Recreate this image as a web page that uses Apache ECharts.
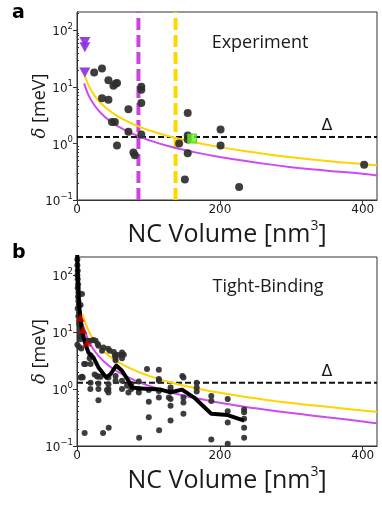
<!DOCTYPE html>
<html>
<head>
<meta charset="utf-8">
<script src="https://cdn.jsdelivr.net/npm/echarts@6/dist/echarts.min.js"></script>
<style>
html,body{margin:0;padding:0;background:#fff;}
#c{width:382px;height:521px;}
</style>
</head>
<body>
<div id="c"></div>
<script>
// ---------- data ----------
const xTicks = [0, 200, 400];
const yTicks = [0.1, 1, 10, 100];
const yMinorTicks = [0.2,0.3,0.4,0.5,0.6,0.7,0.8,0.9,2,3,4,5,6,7,8,9,20,30,40,50,60,70,80,90,200];
const xRange = [0, 420];
const yRange = [0.1, 210];

// panel a: experiment
const expDots = [[24,18],[35,21],[44,13],[51,10.4],[54,11.3],[56,11.7],[35,6.3],[44,5.9],[49,2.4],[53,2.4],
  [72,4],[72,1.6],[56,0.92],[79,0.69],[81,0.62],[90,10],[90,8.9],[90,5.2],[90,1.44],[143,1.0],[151,0.23],
  [155,3.45],[155,1.38],[155,1.17],[155,0.67],[201,1.76],[201,0.92],[227,0.17],[402,0.42]];
const expTriangles = [[11,62],[11,50],[11,18]];
const expSquare = [[161,1.22]];
const vLinePurple = 86;
const vLineYellow = 138;
const deltaLevel = 1.3;

// fitted curves
const yellowCurveA = [[11,15.6],[15,11.5],[20,8.6],[30,5.7],[40,4.3],[50,3.44],[60,2.87],[80,2.15],[100,1.72],
  [130,1.32],[160,1.08],[200,0.86],[250,0.69],[300,0.57],[350,0.49],[400,0.43],[420,0.41]];
const purpleCurveA = [[10,11.5],[15,7.7],[20,5.75],[30,3.83],[40,2.88],[50,2.3],[60,1.92],[80,1.44],[100,1.15],
  [130,0.88],[160,0.72],[200,0.575],[250,0.46],[300,0.38],[350,0.33],[400,0.29],[420,0.27]];
const yellowCurveB = [[8,21],[11,15.6],[15,11.5],[20,8.6],[30,5.7],[40,4.3],[50,3.44],[60,2.87],[80,2.15],[100,1.72],
  [130,1.32],[160,1.08],[200,0.86],[250,0.69],[300,0.57],[350,0.49],[400,0.42],[420,0.40]];
const purpleCurveB = [[8,14.4],[10,11.5],[15,7.7],[20,5.75],[30,3.83],[40,2.88],[50,2.3],[60,1.92],[80,1.44],[100,1.15],
  [130,0.88],[160,0.72],[200,0.575],[250,0.46],[300,0.38],[350,0.32],[400,0.27],[420,0.25]];

// panel b: tight-binding
const tbDots = [[0.5,190],[0.5,150],[1,120],[0.5,100],[1,85],[1.5,70],[1,60],[2,50],[1.5,42],[2,35],[2.5,30],
  [1,26],[3,22],[2,19],[3.5,16],[3,14],[4,12],[5,10],[4,8.5],[5,7.5],[0.5,6],[3,5.5],[6,5.2],[7,47],[5,30],
  [15,7.1],[19,7.1],[26,7.1],[23,7.3],[29,6.2],[30,5.8],[37,5.4],[35,4.7],[43.5,5.1],[46,4.7],[51.5,4.5],
  [53,3.9],[56,4.0],[62,4.0],[65.5,4.0],[54,3.2],[63,3.5],[54,3.6],[63,4.4],
  [10,2.75],[11.7,2.76],[17.7,3.5],[19,3.9],[19,2.76],[7,1.65],[5,1.6],[8,1.6],[24.7,1.8],[29,1.65],[33,1.65],
  [28,1.7],[44,1.6],[54,1.7],[54,1.4],[63,1.4],[19,1.3],[30,1.26],[18.7,1.0],[30,1.0],[44,1.22],[44,1.0],
  [44,0.87],[42,0.96],[63,1.0],[70,1.15],[72,0.87],[76,1.23],[76,1.0],[86.5,1.36],[86.5,1.0],[86.5,0.87],
  [30,0.64],[98,2.25],[100.5,0.96],[100.5,0.6],[100.5,0.32],[114.6,2.2],[114.6,1.5],[114.6,1.4],[114.6,0.93],
  [114.6,0.71],[128.6,0.71],[131,1.07],[131,0.91],[131,0.67],[131,0.51],[131,0.28],[147.5,1.7],[149,1.6],
  [149,0.71],[149,0.58],[149,0.37],[167.6,1.3],[167.6,1.07],[167.6,0.91],[188,0.76],[188,0.62],[188,0.13],
  [211,0.67],[211,0.41],[211,0.26],[211,0.11],[234,0.44],[234,0.39],[234,0.30],[234,0.21],[234,0.14],
  [10.7,0.17],[36.5,0.17],[44.4,0.21],[87,0.14],[115,0.19]];
const tbTriangles = [[4.6,18],[8.4,11],[14,6.6]];
const tbAverage = [[0.3,230],[1.4,71],[2.8,32],[4.6,18],[7,10.7],[11.7,6.2],[16,4.4],[23,3.6],[30,2.4],[41,1.6],
  [47,1.84],[55,2.6],[63,2.1],[72,1.4],[77,1.07],[89,1.02],[103,1.0],[117,0.98],[131,0.88],[147,0.98],
  [164,0.71],[188,0.37],[211,0.35],[234,0.28]];

// ---------- chart ----------
const TXT = '#1a1a1a';
const FONT = 'DejaVu Sans';
const FONT2 = 'Open Sans';
const chart = echarts.init(document.getElementById('c'), null, {renderer:'canvas'});

function xAxisFor(g){
  return {
    type:'value', gridIndex:g, min:xRange[0], max:xRange[1],
    name:'{t|NC Volume [nm}{s|3}{t|]}', nameLocation:'middle', nameGap:17, nameMoveOverlap:false,
    nameTextStyle:{rich:{
      t:{fontFamily:FONT2, fontSize:25, color:TXT, verticalAlign:'bottom'},
      s:{fontFamily:FONT2, fontSize:14, color:TXT, lineHeight:30, padding:[0,0,12,0]}
    }},
    axisLine:{show:true, onZero:false, lineStyle:{color:'#333', width:1}},
    axisTick:{show:true, inside:false, length:4, customValues:xTicks, lineStyle:{color:'#333'}},
    axisLabel:{customValues:xTicks, fontFamily:FONT, fontSize:12, color:TXT, margin:4},
    splitLine:{show:false}
  };
}
function yAxisFor(g){
  return {
    type:'log', logBase:10, gridIndex:g, min:yRange[0], max:yRange[1],
    name:'{i|δ} [meV]', nameLocation:'middle', nameGap:28, nameRotate:90, nameMoveOverlap:false,
    nameTextStyle:{rich:{
      i:{fontFamily:'DejaVu Serif', fontStyle:'italic', fontSize:18, color:TXT},
    }, fontFamily:FONT2, fontSize:18, color:TXT},
    axisLine:{show:true, onZero:false, lineStyle:{color:'#333', width:1}},
    axisTick:{show:true, inside:false, length:4, customValues:yTicks, lineStyle:{color:'#333'}},
    axisLabel:{customValues:yTicks, margin:4,
      formatter:function(v){
        const e = Math.round(Math.log10(v));
        return '{b|10}{s|' + (e<0 ? '\u2212'+(-e) : e) + '}';
      },
      rich:{
        b:{fontFamily:FONT, fontSize:12, color:TXT, lineHeight:16, verticalAlign:'bottom'},
        s:{fontFamily:FONT, fontSize:8.5, color:TXT, lineHeight:16, verticalAlign:'top'}
      }},
    splitLine:{show:false}
  };
}
function yMinorFor(g){
  return {
    type:'log', logBase:10, gridIndex:g, min:yRange[0], max:yRange[1],
    axisLine:{show:false},
    axisTick:{show:true, inside:false, length:2, customValues:yMinorTicks, lineStyle:{color:'#333'}},
    axisLabel:{show:false}, splitLine:{show:false}
  };
}

const dotStyle = {color:'#2e2e2e', opacity:0.92};

chart.setOption({
  animation:false,
  backgroundColor:'#fff',
  grid:[
    {left:77, top:12, width:300, height:188, show:true, borderColor:'#333', borderWidth:1, backgroundColor:'transparent'},
    {left:77, top:257, width:300, height:189, show:true, borderColor:'#333', borderWidth:1, backgroundColor:'transparent'}
  ],
  xAxis:[xAxisFor(0), xAxisFor(1)],
  yAxis:[yAxisFor(0), yAxisFor(1), yMinorFor(0), yMinorFor(1)],
  graphic:[
    {type:'text', left:12, top:4, style:{text:'a', font:'bold 19px "DejaVu Sans"', fill:'#000'}},
    {type:'text', left:12, top:244, style:{text:'b', font:'bold 19px "DejaVu Sans"', fill:'#000'}},
    {type:'text', x:260, y:43, style:{text:'Experiment', font:'18px "Open Sans"', fill:TXT, align:'center', verticalAlign:'middle'}},
    {type:'text', x:268, y:287, style:{text:'Tight-Binding', font:'18px "Open Sans"', fill:TXT, align:'center', verticalAlign:'middle'}},
    {type:'text', x:327, y:126, style:{text:'\u0394', font:'16px "DejaVu Sans"', fill:TXT, align:'center', verticalAlign:'middle'}},
    {type:'text', x:327, y:372, style:{text:'\u0394', font:'16px "DejaVu Sans"', fill:TXT, align:'center', verticalAlign:'middle'}}
  ],
  series:[
    // panel a
    {type:'line', xAxisIndex:0, yAxisIndex:0, data:[[vLinePurple,yRange[0]],[vLinePurple,yRange[1]]], showSymbol:false, silent:true,
      lineStyle:{color:'#cc44e0', width:4, type:[12,5]}, z:1},
    {type:'line', xAxisIndex:0, yAxisIndex:0, data:[[vLineYellow,yRange[0]],[vLineYellow,yRange[1]]], showSymbol:false, silent:true,
      lineStyle:{color:'#ffd700', width:4, type:[12,5]}, z:1},
    {type:'line', xAxisIndex:0, yAxisIndex:0, data:[[xRange[0],deltaLevel],[xRange[1],deltaLevel]], showSymbol:false, silent:true,
      lineStyle:{color:'#111', width:2, type:[6,3]}, z:2},
    {type:'line', xAxisIndex:0, yAxisIndex:0, data:yellowCurveA, smooth:true, showSymbol:false, lineStyle:{color:'#ffd400', width:2}, z:2},
    {type:'line', xAxisIndex:0, yAxisIndex:0, data:purpleCurveA, smooth:true, showSymbol:false, lineStyle:{color:'#cc4cf0', width:2}, z:2},
    {type:'scatter', xAxisIndex:0, yAxisIndex:0, data:expDots, symbolSize:8, itemStyle:dotStyle, z:3},
    {type:'scatter', xAxisIndex:0, yAxisIndex:0, data:expTriangles, symbol:'triangle', symbolRotate:180, symbolSize:[11,10],
      itemStyle:{color:'#8a2be2', opacity:0.9}, z:4},
    {type:'scatter', xAxisIndex:0, yAxisIndex:0, data:expSquare, symbol:'rect', symbolSize:9,
      itemStyle:{color:'#6ef02a', borderColor:'#4cbf1a', borderWidth:1}, z:5},
    // panel b
    {type:'line', xAxisIndex:1, yAxisIndex:1, data:[[xRange[0],deltaLevel],[xRange[1],deltaLevel]], showSymbol:false, silent:true,
      lineStyle:{color:'#111', width:2, type:[6,3]}, z:2},
    {type:'line', xAxisIndex:1, yAxisIndex:1, data:yellowCurveB, smooth:true, showSymbol:false, lineStyle:{color:'#ffd400', width:2}, z:2},
    {type:'line', xAxisIndex:1, yAxisIndex:1, data:purpleCurveB, smooth:true, showSymbol:false, lineStyle:{color:'#cc4cf0', width:2}, z:2},
    {type:'scatter', xAxisIndex:1, yAxisIndex:1, data:tbDots, symbolSize:6, itemStyle:dotStyle, z:3},
    {type:'line', xAxisIndex:1, yAxisIndex:1, data:tbAverage, showSymbol:false, lineStyle:{color:'#000', width:4, join:'round'}, z:4},
    {type:'scatter', xAxisIndex:1, yAxisIndex:1, data:tbTriangles, symbol:'triangle', symbolSize:[9,8],
      itemStyle:{color:'#cc0000'}, z:5}
  ]
});
</script>
</body>
</html>
